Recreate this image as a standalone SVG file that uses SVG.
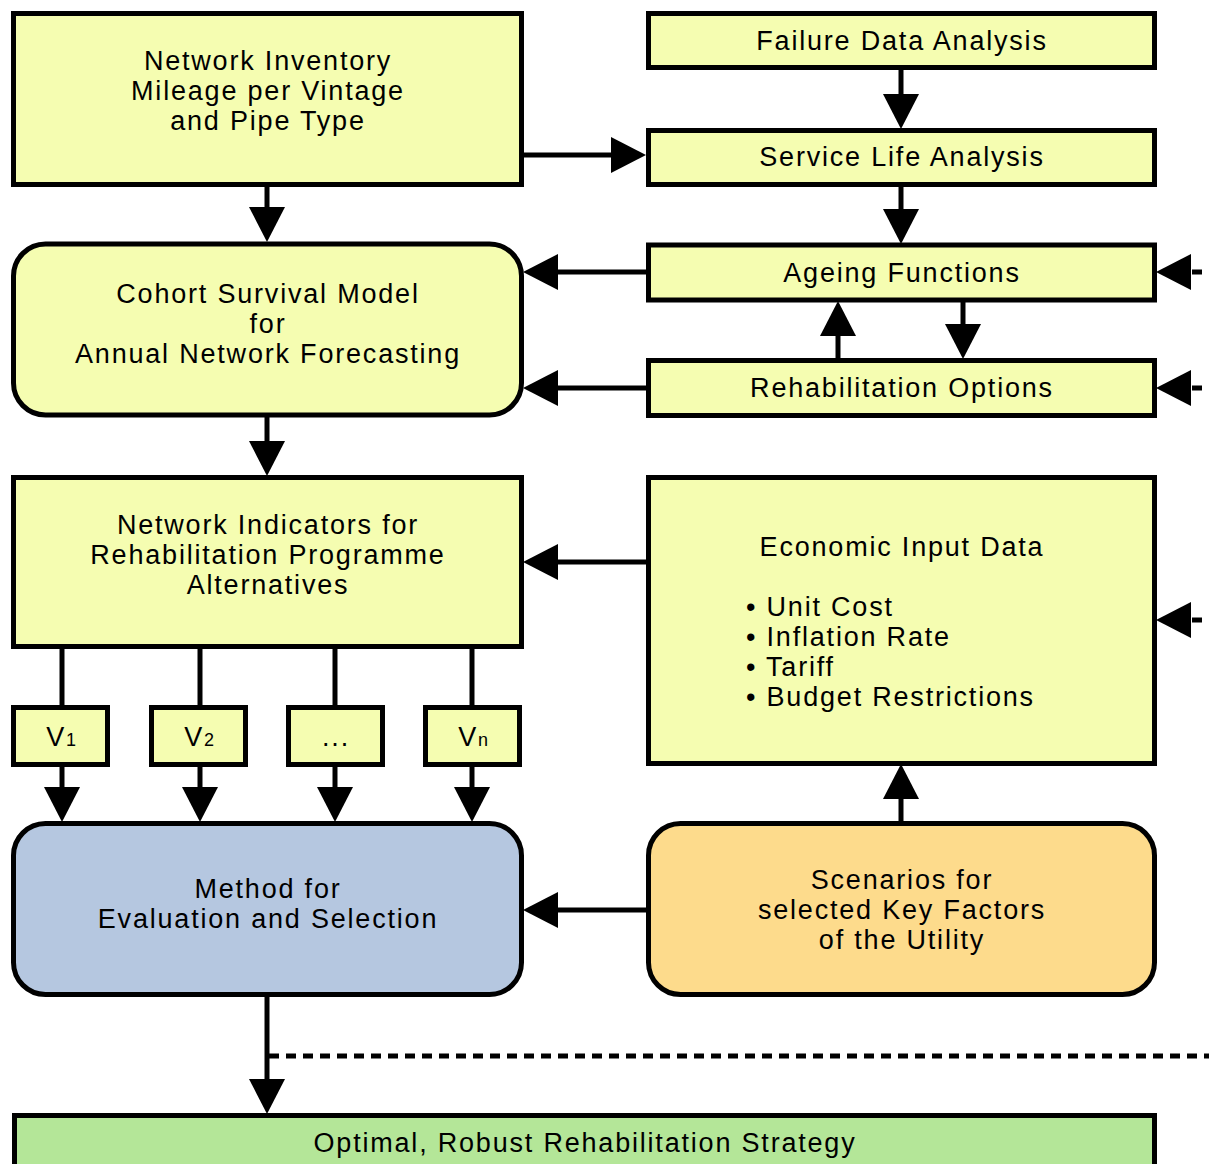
<svg xmlns="http://www.w3.org/2000/svg" width="1209" height="1164" viewBox="0 0 1209 1164">
<style>
.box{fill:#F5FDB1;stroke:#000;stroke-width:5}
.blue{fill:#B5C7E0}
.orange{fill:#FDDB8C}
.green{fill:#B4E698}
.t{font-family:"Liberation Sans",Arial,sans-serif;font-size:27px;letter-spacing:1.8px;fill:#000;text-anchor:middle}
.tl{text-anchor:start}
.c{stroke:#000;stroke-width:5;fill:none}
.d{stroke-dasharray:10 7}
</style>
<defs>
<marker id="ah" markerUnits="userSpaceOnUse" viewBox="0 -18 35 36" refX="1" refY="0" markerWidth="35" markerHeight="36" orient="auto">
<path d="M0,-18 L35,0 L0,18 z" fill="#000"/>
</marker>
</defs>
<rect width="1209" height="1164" fill="#fff"/>
<g id="connectors">
<path class="c" d="M267,186 V208" marker-end="url(#ah)"/>
<path class="c" d="M521,155 H612" marker-end="url(#ah)"/>
<path class="c" d="M901,68 V95" marker-end="url(#ah)"/>
<path class="c" d="M901,185 V210" marker-end="url(#ah)"/>
<path class="c" d="M648,272 H557" marker-end="url(#ah)"/>
<path class="c" d="M648,388 H557" marker-end="url(#ah)"/>
<path class="c" d="M838,360 V335" marker-end="url(#ah)"/>
<path class="c" d="M963,300 V325" marker-end="url(#ah)"/>
<path class="c" d="M267,415 V442" marker-end="url(#ah)"/>
<path class="c" d="M648,562 H557" marker-end="url(#ah)"/>
<path class="c" d="M62,647 V707"/>
<path class="c" d="M200,647 V707"/>
<path class="c" d="M335,647 V707"/>
<path class="c" d="M472,647 V707"/>
<path class="c" d="M62,765 V788" marker-end="url(#ah)"/>
<path class="c" d="M200,765 V788" marker-end="url(#ah)"/>
<path class="c" d="M335,765 V788" marker-end="url(#ah)"/>
<path class="c" d="M472,765 V788" marker-end="url(#ah)"/>
<path class="c" d="M901,823 V798" marker-end="url(#ah)"/>
<path class="c" d="M648,910 H557" marker-end="url(#ah)"/>
<path class="c" d="M267,995 V1080" marker-end="url(#ah)"/>
<path class="c d" d="M269,1056 H1209"/>
<path class="c d" stroke-dashoffset="3" d="M1216,272 H1190" marker-end="url(#ah)"/>
<path class="c d" stroke-dashoffset="3" d="M1216,388 H1190" marker-end="url(#ah)"/>
<path class="c d" stroke-dashoffset="3" d="M1216,620 H1190" marker-end="url(#ah)"/>
</g>
<g id="network-inventory">
<rect class="box" x="13.5" y="13.5" width="508" height="171"/>
<text class="t" x="268" y="70">Network Inventory</text>
<text class="t" x="268" y="100">Mileage per Vintage</text>
<text class="t" x="268" y="130">and Pipe Type</text>
</g>
<g id="failure-data">
<rect class="box" x="648.5" y="13.5" width="506" height="54"/>
<text class="t" x="902" y="50">Failure Data Analysis</text>
</g>
<g id="service-life">
<rect class="box" x="648.5" y="130.5" width="506" height="54"/>
<text class="t" x="902" y="166">Service Life Analysis</text>
</g>
<g id="ageing">
<rect class="box" x="648.5" y="245" width="506" height="55"/>
<text class="t" x="902" y="282">Ageing Functions</text>
</g>
<g id="rehab-options">
<rect class="box" x="648.5" y="360.5" width="506" height="55"/>
<text class="t" x="902" y="397">Rehabilitation Options</text>
</g>
<g id="cohort">
<rect class="box" x="13.5" y="244" width="508" height="171" rx="32"/>
<text class="t" x="268" y="303">Cohort Survival Model</text>
<text class="t" x="268" y="333">for</text>
<text class="t" x="268" y="363">Annual Network Forecasting</text>
</g>
<g id="network-indicators">
<rect class="box" x="13.5" y="477.5" width="508" height="169"/>
<text class="t" x="268" y="534">Network Indicators for</text>
<text class="t" x="268" y="564">Rehabilitation Programme</text>
<text class="t" x="268" y="594">Alternatives</text>
</g>
<g id="economic">
<rect class="box" x="648.5" y="477.5" width="506" height="286"/>
<text class="t" x="902" y="556">Economic Input Data</text>
<text class="t tl" x="746" y="616">• Unit Cost</text>
<text class="t tl" x="746" y="646">• Inflation Rate</text>
<text class="t tl" x="746" y="676">• Tariff</text>
<text class="t tl" x="746" y="706">• Budget Restrictions</text>
</g>
<g id="v1">
<rect class="box" x="13.5" y="707.5" width="94" height="57"/>
<text class="t" x="62" y="746">V<tspan font-size="18">1</tspan></text>
</g>
<g id="v2">
<rect class="box" x="151.5" y="707.5" width="94" height="57"/>
<text class="t" x="200" y="746">V<tspan font-size="18">2</tspan></text>
</g>
<g id="vdots">
<rect class="box" x="288.5" y="707.5" width="94" height="57"/>
<text class="t" x="336" y="746" font-size="22" letter-spacing="1">...</text>
</g>
<g id="vn">
<rect class="box" x="425.5" y="707.5" width="94" height="57"/>
<text class="t" x="474" y="746">V<tspan font-size="18">n</tspan></text>
</g>
<g id="method">
<rect class="box blue" x="13.5" y="823.5" width="508" height="171" rx="32"/>
<text class="t" x="268" y="898">Method for</text>
<text class="t" x="268" y="928">Evaluation and Selection</text>
</g>
<g id="scenarios">
<rect class="box orange" x="648.5" y="823.5" width="506" height="171" rx="32"/>
<text class="t" x="902" y="889">Scenarios for</text>
<text class="t" x="902" y="919">selected Key Factors</text>
<text class="t" x="902" y="949">of the Utility</text>
</g>
<g id="optimal">
<rect class="box green" x="14.5" y="1115.5" width="1140" height="80"/>
<text class="t" x="585" y="1152">Optimal, Robust Rehabilitation Strategy</text>
</g>
</svg>
